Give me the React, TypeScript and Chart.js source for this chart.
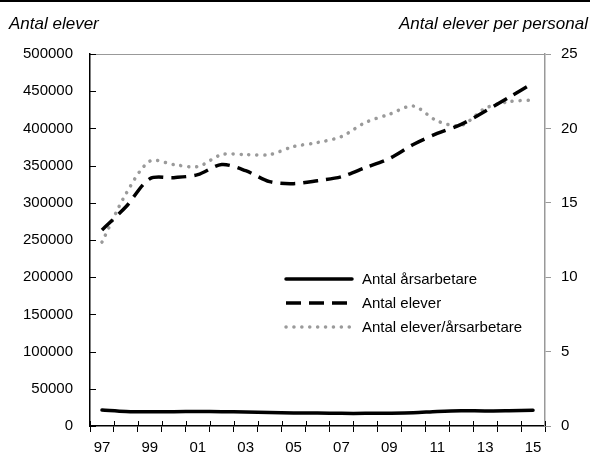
import React, { useEffect, useRef } from "react";
import { Chart, registerables } from "chart.js";

Chart.register(...registerables);

const years = ["97","98","99","00","01","02","03","04","05","06","07","08","09","10","11","12","13","14","15"];
const arsarbetare = [21500,19500,19000,19200,19500,19200,18800,18000,17500,17400,17000,17000,17200,17800,19500,20500,20200,20600,21200];
const elever = [263500,294600,332400,333800,337800,351400,343200,328400,325700,329700,335100,347300,359500,378400,393200,405400,423000,441900,460800];
const elevPerArs = [12.36,15.6,17.8,17.57,17.43,18.24,18.24,18.24,18.78,19.05,19.45,20.4,20.95,21.5,20.5,20.2,21.35,21.8,21.9];
const seriesNames = ["Antal årsarbetare", "Antal elever", "Antal elever/årsarbetare"];

const FONT = "'Liberation Sans', Arial, sans-serif";
const FSIZE = 15;

const extrasPlugin = {
  id: "extras",
  afterDraw(chart: any) {
    const { ctx, chartArea, scales } = chart;
    const x = scales.x;
    const y = scales.y;
    ctx.save();
    // top frame line
    ctx.strokeStyle = "#999";
    ctx.lineWidth = 1;
    ctx.beginPath();
    ctx.moveTo(chartArea.left, chartArea.top + 0.5);
    ctx.lineTo(chartArea.right, chartArea.top + 0.5);
    ctx.stroke();
    // left inward ticks
    ctx.strokeStyle = "#000";
    ctx.lineWidth = 1;
    y.ticks.forEach((t: any) => {
      const py = Math.round(y.getPixelForValue(t.value)) + 0.5;
      ctx.beginPath();
      ctx.moveTo(chartArea.left, py);
      ctx.lineTo(chartArea.left + 6, py);
      ctx.stroke();
    });
    // x ticks crossing upward
    const n = years.length;
    const step = x.getPixelForValue(1) - x.getPixelForValue(0);
    for (let i = 0; i <= n; i++) {
      const px = Math.round(x.getPixelForValue(i) - step / 2) + 0.5;
      ctx.beginPath();
      ctx.moveTo(px, chartArea.bottom - 5);
      ctx.lineTo(px, chartArea.bottom);
      ctx.stroke();
    }
    // legend
    const x0 = chartArea.left + 196;
    const x1 = x0 + 66;
    const tx = x1 + 10;
    const rows = [225, 249, 273];
    chart.data.datasets.forEach((ds: any, i: number) => {
      const ry = chartArea.top + rows[i];
      ctx.save();
      ctx.strokeStyle = ds.borderColor;
      ctx.lineWidth = ds.borderWidth;
      ctx.setLineDash(ds.borderDash || []);
      ctx.lineCap = ds.borderCapStyle || "butt";
      ctx.beginPath();
      ctx.moveTo(x0, ry);
      ctx.lineTo(x1, ry);
      ctx.stroke();
      ctx.restore();
      ctx.fillStyle = "#000";
      ctx.font = `${FSIZE}px ${FONT}`;
      ctx.textBaseline = "middle";
      ctx.textAlign = "left";
      ctx.fillText(ds.label, tx, ry + 1);
    });
    ctx.restore();
  },
};

export default function App() {
  const ref = useRef<HTMLCanvasElement | null>(null);
  useEffect(() => {
    if (!ref.current) return;
    const chart = new Chart(ref.current, {
      type: "line",
      data: {
        labels: years,
        datasets: [
          {
            label: seriesNames[0],
            data: arsarbetare,
            yAxisID: "y",
            borderColor: "#000",
            borderWidth: 3.5,
            borderCapStyle: "round",
            pointRadius: 0,
            tension: 0.3,
            fill: false,
          },
          {
            label: seriesNames[1],
            data: elever,
            yAxisID: "y",
            borderColor: "#000",
            borderWidth: 3.5,
            borderDash: [15, 8],
            borderCapStyle: "butt",
            pointRadius: 0,
            tension: 0.3,
            fill: false,
          },
          {
            label: seriesNames[2],
            data: elevPerArs,
            yAxisID: "y1",
            borderColor: "#9a9a9a",
            borderWidth: 3.5,
            borderDash: [0.1, 7.8],
            borderCapStyle: "round",
            pointRadius: 0,
            tension: 0.3,
            fill: false,
          },
        ] as any,
      },
      options: {
        responsive: false,
        animation: false,
        layout: { padding: { top: 54, left: 0, right: 0, bottom: 0 } },
        plugins: { legend: { display: false }, tooltip: { enabled: false } },
        scales: {
          x: {
            type: "category",
            offset: true,
            grid: { offset: true, drawOnChartArea: false, drawTicks: true, tickLength: 6, color: "#000", lineWidth: 1 },
            border: { color: "#000", width: 1.5 },
            ticks: {
              autoSkip: false,
              maxRotation: 0,
              padding: 7,
              color: "#000",
              font: { family: FONT, size: FSIZE },
              callback: (_v: any, i: number) => (i % 2 === 0 ? years[i] : ""),
            },
            afterFit: (s: any) => { s.height = 28; },
          },
          y: {
            position: "left",
            min: 0,
            max: 500000,
            grid: { drawOnChartArea: false, drawTicks: false },
            border: { color: "#000", width: 1.5 },
            ticks: {
              stepSize: 50000,
              padding: 17,
              color: "#000",
              font: { family: FONT, size: FSIZE },
              callback: (v: any) => String(v),
            },
            afterFit: (s: any) => { s.width = 90; },
          },
          y1: {
            position: "right",
            min: 0,
            max: 25,
            grid: { drawOnChartArea: false, drawTicks: true, tickLength: 6, color: "#999", lineWidth: 1 },
            border: { color: "#999", width: 1.5 },
            ticks: {
              stepSize: 5,
              padding: 10,
              color: "#000",
              font: { family: FONT, size: FSIZE },
              callback: (v: any) => String(v),
            },
            afterFit: (s: any) => { s.width = 45; },
          },
        },
      } as any,
      plugins: [extrasPlugin],
    });
    return () => chart.destroy();
  }, []);

  const titleStyle: React.CSSProperties = {
    position: "absolute",
    top: 14,
    fontFamily: "'Liberation Sans', Arial, sans-serif",
    fontStyle: "italic",
    fontSize: 17,
    lineHeight: "20px",
    color: "#000",
    whiteSpace: "nowrap",
  };

  return (
    <div style={{ position: "absolute", left: 0, top: 0, width: 590, height: 454, background: "#fff" }}>
      <div style={{ position: "absolute", left: 0, top: 0, width: 590, height: 2, background: "#000" }} />
      <canvas ref={ref} width={590} height={454} style={{ position: "absolute", left: 0, top: 0, width: 590, height: 454 }} />
      <div style={{ ...titleStyle, left: 9 }}>Antal elever</div>
      <div style={{ ...titleStyle, right: 2 }}>Antal elever per personal</div>
    </div>
  );
}
